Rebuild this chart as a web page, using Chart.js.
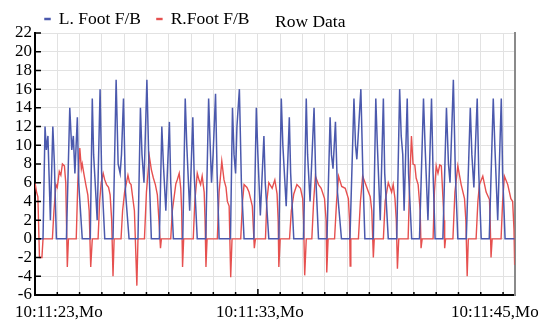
<!DOCTYPE html>
<html>
<head>
<meta charset="utf-8">
<script src="https://cdn.jsdelivr.net/npm/chart.js@4.4.1/dist/chart.umd.min.js"></script>
<style>
  html, body { margin: 0; padding: 0; background: #fff; }
</style>
</head>
<body>
<canvas id="footChart" width="547" height="322"></canvas>
<script>
// time in seconds after 10:11:23
const leftTime = [
  0,
  0.36, 0.45, 0.51, 0.58, 0.69, 0.80, 0.87, 0.96,
  1.41, 1.56, 1.65, 1.72, 1.79, 1.90, 1.96, 2.12,
  2.48, 2.57, 2.63, 2.70, 2.79, 2.92, 2.99, 3.13,
  3.50, 3.64, 3.73, 3.82, 3.88, 3.97, 4.06, 4.22,
  4.62, 4.73, 4.80, 4.89, 5.02, 5.11, 5.22,
  5.58, 5.69, 5.76, 5.87, 6.03, 6.09, 6.21,
  6.63, 6.74, 6.81, 6.94, 7.08, 7.14, 7.28,
  7.66, 7.79, 7.86, 7.92, 7.99, 8.10, 8.17, 8.26,
  8.77, 8.86, 8.93, 9.00, 9.06, 9.17, 9.26, 9.38,
  9.82, 9.93, 10.00, 10.11, 10.27, 10.33, 10.49,
  10.94, 11.05, 11.12, 11.27, 11.41, 11.47, 11.61,
  12.05, 12.17, 12.23, 12.34, 12.52, 12.59, 12.72,
  13.10, 13.24, 13.30, 13.37, 13.48, 13.57, 13.75,
  14.13, 14.31, 14.38, 14.44, 14.62, 14.71, 14.80,
  15.18, 15.29, 15.36, 15.49, 15.63, 15.69, 15.85,
  16.23, 16.36, 16.43, 16.50, 16.56, 16.70, 16.76, 16.90,
  17.25, 17.43, 17.50, 17.63, 17.79, 17.86, 17.95,
  18.30, 18.46, 18.55, 18.62, 18.77, 18.86, 18.97,
  19.35, 19.53, 19.60, 19.69, 19.84, 19.91, 20.02,
  20.38, 20.56, 20.63, 20.76, 20.92, 20.98, 21.09,
  21.52
]
const leftValue = [
  0,
  0, 12, 9.5, 11, 2, 12, 8, 0,
  0, 14, 9.5, 11, 7, 13, 6, 0,
  0, 15, 9, 6, 2, 16, 7, 0,
  0, 17, 8, 7, 9, 15, 5, 0,
  0, 14, 9, 6, 17, 8, 0,
  0, 12, 8, 3, 12.5, 6, 0,
  0, 15, 10, 3, 13, 7, 0,
  0, 15, 10, 6, 9, 15.5, 7, 0,
  0, 14, 9, 7, 12, 16, 6, 0,
  0, 14, 9, 2.5, 11, 6, 0,
  0, 15, 10, 3.5, 13, 7, 0,
  0, 15, 9, 4, 14, 7, 0,
  0, 13, 9, 7.5, 12.5, 5, 0,
  0, 15, 10, 8.5, 16, 7, 0,
  0, 15, 10, 2, 15, 7, 0,
  0, 16, 11, 9, 3, 15, 7, 0,
  0, 15, 10, 2, 15, 7, 0,
  0, 14, 8, 6, 17, 7, 0,
  0, 14, 9, 5.5, 15, 7, 0,
  0, 15, 10, 2, 15, 7, 0,
  0
]
const rightTime = [
  0, 0.07, 0.13, 0.20, 0.31, 0.36,
  0.78, 0.85, 0.94, 1.00, 1.09, 1.16, 1.23, 1.32, 1.38, 1.45, 1.50,
  1.85, 1.92, 2.01, 2.08, 2.12, 2.19, 2.28, 2.37, 2.43, 2.50, 2.57,
  2.83, 2.90, 2.97, 3.06, 3.13, 3.21, 3.30, 3.37, 3.44, 3.50, 3.55,
  3.86, 3.93, 4.02, 4.17, 4.24, 4.31, 4.38, 4.46, 4.57, 4.62,
  4.91, 5.00, 5.13, 5.22, 5.31, 5.40, 5.49, 5.56, 5.63, 5.67,
  6.09, 6.16, 6.32, 6.38, 6.47, 6.54, 6.58, 6.62, 6.67,
  7.10, 7.17, 7.28, 7.37, 7.43, 7.50, 7.59, 7.63, 7.67, 7.72,
  8.18, 8.26, 8.38, 8.48, 8.57, 8.63, 8.71, 8.78, 8.84,
  9.23, 9.31, 9.38, 9.51, 9.60, 9.75, 9.80, 9.84, 9.89,
  10.34, 10.40, 10.49, 10.64, 10.76, 10.86, 10.91, 10.94, 11.00,
  11.42, 11.50, 11.61, 11.75, 11.91, 12.01, 12.05, 12.10, 12.17,
  12.42, 12.50, 12.58, 12.72, 12.84, 12.99, 13.06, 13.09, 13.15,
  13.44, 13.53, 13.62, 13.76, 13.92, 14.06, 14.11, 14.14, 14.17,
  14.51, 14.60, 14.70, 14.81, 14.96, 15.04, 15.11, 15.18, 15.22,
  15.63, 15.71, 15.85, 16.00, 16.07, 16.15, 16.21, 16.26, 16.32,
  16.74, 16.81, 16.89, 16.96, 17.04, 17.10, 17.19, 17.28, 17.32, 17.37,
  17.86, 17.92, 18.00, 18.08, 18.16, 18.23, 18.30, 18.35, 18.38, 18.42,
  18.75, 18.84, 18.97, 19.12, 19.27, 19.33, 19.39, 19.44,
  19.79, 19.87, 19.94, 20.09, 20.24, 20.39, 20.42, 20.46, 20.51,
  20.91, 20.98, 21.06, 21.21, 21.35, 21.43, 21.49, 21.52
]
const rightValue = [
  6, 5, 4.5, -2, -2, 0,
  0, 3, 5.8, 5.5, 7.2, 6.8, 8, 7.8, 6, -3, 0,
  0, 6, 9.7, 7.5, 8, 7, 5.8, 4.7, 3, -3, 0,
  0, 4, 6, 7, 6.3, 5.8, 5.5, 4.7, 2, -4, 0,
  0, 3, 5, 6.8, 6, 5.8, 4.5, 3, -5, 0,
  0, 5, 8.8, 7.4, 6.5, 5.8, 4.7, 2, -1, 0,
  0, 3, 5.9, 6.3, 7, 5.4, 3, -3, 0,
  0, 4, 7, 6.2, 5.8, 6.7, 5, 2, -3, 0,
  0, 5, 8.3, 6.3, 5.5, 4, 3.5, -4.1, 0,
  0, 4, 5.8, 5.5, 5, 3.5, 1, -1, 0,
  0, 4, 6, 5.4, 6.3, 4.8, 2, -3, 0,
  0, 3, 4.8, 5.8, 5.4, 4.3, 2, -3.9, 0,
  0, 4, 6.7, 5.8, 5.4, 4.3, 2, -3.6, 0,
  0, 4, 6.7, 5.6, 5.4, 4.3, 2, -2.9, 0,
  0, 4, 6.7, 6, 5, 4.5, 3, -2, 0,
  0, 4, 6, 5, 5.8, 4.3, 2, -3.2, 0,
  0, 6, 11, 8, 7.9, 6.5, 5.8, 3, -1, 0,
  0, 5, 7.8, 7, 7.9, 7.8, 4.5, 2, -1, 0,
  0, 5, 7.8, 5.8, 4.3, 2, -4, 0,
  0, 4, 5.8, 6.7, 5, 4.2, 2, -2, 0,
  0, 4, 6.7, 5.8, 4.3, 4, 1, -2.8
]
const timeLabels = ["10:11:23,Mo", "10:11:33,Mo", "10:11:45,Mo"]
const timeLabelAt = [1.07, 10.09, 20.63]
const timeEnd = 21.52

const blue = "#4b59ad"
const red = "#e6504f"
const serif = "'Liberation Serif', 'DejaVu Serif', serif"

// inward tick marks, legend placement and the "Row Data" caption
const frame = {
  id: "frame",
  afterLayout(chart) {
    chart.legend.left = 29
    chart.legend.top = -5.75
  },
  afterDraw(chart) {
    const ctx = chart.ctx
    const area = chart.chartArea
    const xs = chart.scales.x
    const ys = chart.scales.y
    ctx.save()
    ctx.strokeStyle = "#000"
    ctx.lineWidth = 1.5
    ctx.beginPath()
    ys.ticks.forEach(t => {
      const py = ys.getPixelForValue(t.value)
      ctx.moveTo(area.left, py)
      ctx.lineTo(area.left + 6, py)
    })
    xs.ticks.forEach(t => {
      const px = xs.getPixelForValue(t.value)
      const len = t.value === 10 ? 6 : 3
      ctx.moveTo(px, area.bottom)
      ctx.lineTo(px, area.bottom - len)
    })
    ctx.stroke()
    ctx.fillStyle = "#000"
    ctx.font = "17.5px " + serif
    ctx.textBaseline = "middle"
    ctx.fillText("Row Data", 275, 22)
    ctx.restore()
  }
}

const ctx = document.getElementById("footChart").getContext("2d")
const footChart = new Chart(ctx, {
  type: "line",
  data: {
    datasets: [
      {
        label: "L. Foot F/B",
        data: leftTime.map((t, i) => ({ x: t, y: leftValue[i] })),
        borderColor: blue,
        backgroundColor: blue,
        borderWidth: 1.5,
        pointRadius: 0,
        tension: 0
      },
      {
        label: "R.Foot F/B",
        data: rightTime.map((t, i) => ({ x: t, y: rightValue[i] })),
        borderColor: red,
        backgroundColor: red,
        borderWidth: 1.4,
        pointRadius: 0,
        tension: 0
      }
    ]
  },
  options: {
    responsive: false,
    animation: false,
    devicePixelRatio: 1,
    layout: { padding: { top: -10.5, right: 30, bottom: 0, left: 0 } },
    plugins: {
      tooltip: { enabled: false },
      legend: {
        align: "start",
        labels: {
          boxWidth: 5,
          boxHeight: 1,
          padding: 16,
          color: "#000",
          font: { family: serif, size: 17.5 }
        }
      }
    },
    scales: {
      x: {
        type: "linear",
        min: 0,
        max: timeEnd,
        position: "bottom",
        weight: 0,
        afterBuildTicks: s => {
          s.ticks = []
          for (let i = 0; i <= Math.floor(timeEnd); i++) s.ticks.push({ value: i })
        },
        grid: { color: "#e2e2e2", lineWidth: 1, drawTicks: false },
        border: { color: "#000", width: 2 },
        ticks: { display: false }
      },
      xLabels: {
        type: "linear",
        min: 0,
        max: timeEnd,
        position: "bottom",
        weight: 1,
        afterBuildTicks: s => { s.ticks = timeLabelAt.map(v => ({ value: v })) },
        afterFit: s => { s.height = 27 },
        grid: { display: false, drawTicks: false },
        border: { display: false },
        ticks: {
          autoSkip: false,
          maxRotation: 0,
          padding: 7,
          color: "#000",
          font: { family: serif, size: 17 },
          callback: (v, i) => timeLabels[i]
        }
      },
      y: {
        min: -6,
        max: 22,
        afterFit: s => { s.width = 35 },
        grid: { color: "#e2e2e2", lineWidth: 1, drawTicks: false },
        border: { color: "#000", width: 2 },
        ticks: {
          stepSize: 2,
          autoSkip: false,
          padding: 3,
          color: "#000",
          font: { family: serif, size: 17 }
        }
      },
      yRight: {
        position: "right",
        min: -6,
        max: 22,
        grid: { display: false, drawTicks: false },
        border: { color: "#8a8a8a", width: 2 },
        ticks: { display: false }
      }
    }
  },
  plugins: [frame]
})
</script>
</body>
</html>
